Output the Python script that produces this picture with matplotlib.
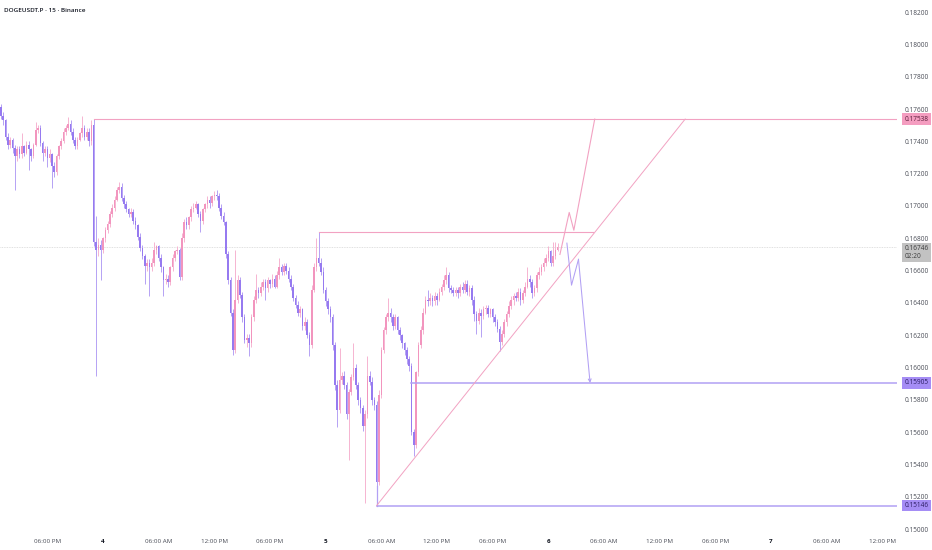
import matplotlib
matplotlib.use('Agg')
import matplotlib.pyplot as plt
import matplotlib.transforms as mtransforms
import numpy as np

# DOGEUSDT.P 15 min candles, first bar at 1:00 PM on the 3rd
# (time is counted in hours from midnight of the 4th)
first_open = 0.1761
closes = [
    0.1756, 0.1753, 0.1743, 0.1738, 0.1741, 0.1736, 0.1731, 0.1735, 0.1732, 0.1737,
    0.1733, 0.1738, 0.1735, 0.1731, 0.1738, 0.1747, 0.1748, 0.1739, 0.1733, 0.1735,
    0.1730, 0.1732, 0.1725, 0.1721, 0.1731, 0.1737, 0.1740, 0.1746, 0.1748, 0.1751,
    0.1746, 0.1741, 0.1737, 0.1741, 0.1745, 0.1748, 0.1743, 0.1746, 0.1740, 0.1750,
    0.1678, 0.1673, 0.1676, 0.1673, 0.1680, 0.1685, 0.1689, 0.1695, 0.1699, 0.1704,
    0.1710, 0.1712, 0.1705, 0.1701, 0.1698, 0.1695, 0.1696, 0.1691, 0.1688, 0.1681,
    0.1674, 0.1669, 0.1663, 0.1665, 0.1662, 0.1665, 0.1673, 0.1675, 0.1668, 0.1662,
    0.1654, 0.1655, 0.1653, 0.1662, 0.1668, 0.1672, 0.1673, 0.1656, 0.1680, 0.1690,
    0.1688, 0.1693, 0.1698, 0.1699, 0.1701, 0.1695, 0.1691, 0.1698, 0.1701, 0.1704,
    0.1702, 0.1706, 0.1707, 0.1706, 0.1699, 0.1694, 0.1690, 0.1670, 0.1654, 0.1634,
    0.1611, 0.1642, 0.1654, 0.1645, 0.1631, 0.1617, 0.1618, 0.1615, 0.1631, 0.1642,
    0.1648, 0.1646, 0.1650, 0.1653, 0.1649, 0.1654, 0.1652, 0.1655, 0.1650, 0.1657,
    0.1662, 0.1659, 0.1663, 0.1660, 0.1655, 0.1650, 0.1643, 0.1639, 0.1634, 0.1636,
    0.1626, 0.1628, 0.1620, 0.1614, 0.1648, 0.1662, 0.1668, 0.1665, 0.1659, 0.1648,
    0.1641, 0.1636, 0.1631, 0.1614, 0.1589, 0.1574, 0.1592, 0.1595, 0.1589, 0.1571,
    0.1585, 0.1594, 0.1600, 0.1589, 0.1580, 0.1575, 0.1564, 0.1571, 0.1595, 0.1591,
    0.1580, 0.1577, 0.1529, 0.1583, 0.1611, 0.1623, 0.1631, 0.1634, 0.1631, 0.1626,
    0.1631, 0.1623, 0.1620, 0.1615, 0.1611, 0.1605, 0.1601, 0.1560, 0.1552, 0.1597,
    0.1614, 0.1623, 0.1634, 0.1642, 0.1641, 0.1643, 0.1641, 0.1644, 0.1642, 0.1647,
    0.1650, 0.1654, 0.1657, 0.1649, 0.1648, 0.1646, 0.1648, 0.1646, 0.1650, 0.1648,
    0.1652, 0.1647, 0.1649, 0.1642, 0.1633, 0.1629, 0.1634, 0.1632, 0.1636, 0.1637,
    0.1633, 0.1636, 0.1631, 0.1628, 0.1624, 0.1616, 0.1621, 0.1628, 0.1633, 0.1638,
    0.1642, 0.1644, 0.1643, 0.1647, 0.1642, 0.1646, 0.1650, 0.1655, 0.1653, 0.1646,
    0.1649, 0.1657, 0.1659, 0.1662, 0.1665, 0.1668, 0.1672, 0.1665, 0.1669, 0.1673,
    0.16746,
]
highs = [
    0.1763, 0.1758, 0.1754, 0.1745, 0.1743, 0.1742, 0.1738, 0.1737, 0.1737, 0.1745,
    0.1738, 0.1740, 0.1740, 0.1736, 0.1739, 0.1752, 0.1750, 0.1750, 0.1740, 0.1737,
    0.1737, 0.1735, 0.1733, 0.1727, 0.1732, 0.1738, 0.1742, 0.1748, 0.1750, 0.1755,
    0.1753, 0.1748, 0.1743, 0.1743, 0.1746, 0.1756, 0.1750, 0.1748, 0.1748, 0.1753,
    0.17538, 0.1694, 0.1680, 0.1679, 0.1681, 0.1687, 0.1691, 0.1697, 0.1701, 0.1706,
    0.1712, 0.1715, 0.1714, 0.1707, 0.1703, 0.1699, 0.1699, 0.1698, 0.1693, 0.1689,
    0.1683, 0.1676, 0.1670, 0.1667, 0.1667, 0.1668, 0.1678, 0.1676, 0.1676, 0.1670,
    0.1663, 0.1658, 0.1657, 0.1663, 0.1670, 0.1673, 0.1675, 0.1674, 0.1683, 0.1692,
    0.1693, 0.1694, 0.1700, 0.1702, 0.1703, 0.1702, 0.1697, 0.1699, 0.1702, 0.1706,
    0.1706, 0.1707, 0.1709, 0.1710, 0.1708, 0.1701, 0.1696, 0.1691, 0.1672, 0.1656,
    0.1636, 0.1673, 0.1657, 0.1656, 0.1647, 0.1633, 0.1621, 0.1621, 0.1633, 0.1644,
    0.1658, 0.1650, 0.1653, 0.1655, 0.1655, 0.1656, 0.1655, 0.1658, 0.1657, 0.1660,
    0.1668, 0.1664, 0.1665, 0.1665, 0.1662, 0.1657, 0.1652, 0.1645, 0.1641, 0.1638,
    0.1637, 0.1631, 0.1630, 0.1622, 0.1651, 0.1665, 0.1680, 0.16842, 0.1668, 0.1662,
    0.1650, 0.1643, 0.1638, 0.1633, 0.1616, 0.1592, 0.1612, 0.1597, 0.1598, 0.1591,
    0.1587, 0.1596, 0.1615, 0.1602, 0.1591, 0.1582, 0.1577, 0.1574, 0.1607, 0.1598,
    0.1594, 0.1582, 0.1579, 0.1586, 0.1613, 0.1625, 0.1633, 0.1643, 0.1637, 0.1633,
    0.1633, 0.1632, 0.1625, 0.1621, 0.1616, 0.1613, 0.1607, 0.1603, 0.1562, 0.1598,
    0.1616, 0.1626, 0.1637, 0.1644, 0.1648, 0.1646, 0.1645, 0.1647, 0.1646, 0.1649,
    0.1652, 0.1657, 0.1662, 0.1659, 0.1651, 0.1650, 0.1650, 0.1650, 0.1652, 0.1653,
    0.1654, 0.1654, 0.1651, 0.1651, 0.1644, 0.1635, 0.1637, 0.1636, 0.1638, 0.1639,
    0.1639, 0.1637, 0.1637, 0.1633, 0.1630, 0.1626, 0.1623, 0.1630, 0.1635, 0.1641,
    0.1644, 0.1646, 0.1647, 0.1649, 0.1649, 0.1648, 0.1653, 0.1662, 0.1657, 0.1655,
    0.1651, 0.1659, 0.1662, 0.1664, 0.1668, 0.1670, 0.1675, 0.1673, 0.1678, 0.1678,
    0.1677,
]
lows = [
    0.1754, 0.1750, 0.1741, 0.1735, 0.1736, 0.1733, 0.1710, 0.1728, 0.1730, 0.1730,
    0.1731, 0.1732, 0.1722, 0.1728, 0.1730, 0.1737, 0.1745, 0.1737, 0.1728, 0.1731,
    0.1724, 0.1727, 0.1711, 0.1718, 0.1719, 0.1729, 0.1735, 0.1739, 0.1744, 0.1747,
    0.1744, 0.1739, 0.1735, 0.1735, 0.1740, 0.1743, 0.1741, 0.1741, 0.1737, 0.1738,
    0.1675, 0.1595, 0.1669, 0.1654, 0.1671, 0.1678, 0.1683, 0.1687, 0.1693, 0.1697,
    0.1703, 0.1708, 0.1703, 0.1699, 0.1696, 0.1693, 0.1693, 0.1689, 0.1686, 0.1679,
    0.1672, 0.1667, 0.1652, 0.1660, 0.1644, 0.1660, 0.1663, 0.1670, 0.1666, 0.1659,
    0.1644, 0.1652, 0.1650, 0.1651, 0.1660, 0.1666, 0.1670, 0.1654, 0.1654, 0.1678,
    0.1686, 0.1686, 0.1691, 0.1696, 0.1698, 0.1693, 0.1684, 0.1689, 0.1696, 0.1699,
    0.1699, 0.1700, 0.1704, 0.1704, 0.1697, 0.1692, 0.1688, 0.1668, 0.1652, 0.1632,
    0.1608, 0.1609, 0.1640, 0.1643, 0.1628, 0.1615, 0.1613, 0.1607, 0.1613, 0.1629,
    0.1640, 0.1643, 0.1644, 0.1648, 0.1642, 0.1647, 0.1649, 0.1650, 0.1649, 0.1649,
    0.1655, 0.1657, 0.1657, 0.1658, 0.1653, 0.1648, 0.1641, 0.1637, 0.1632, 0.1631,
    0.1623, 0.1623, 0.1618, 0.1607, 0.1612, 0.1647, 0.1660, 0.1663, 0.1657, 0.1646,
    0.1638, 0.1633, 0.1628, 0.1611, 0.1586, 0.1563, 0.1572, 0.1590, 0.1587, 0.1568,
    0.1543, 0.1583, 0.1592, 0.1587, 0.1577, 0.1572, 0.1561, 0.1516, 0.1569, 0.1589,
    0.1577, 0.1574, 0.15146, 0.1527, 0.1581, 0.1609, 0.1621, 0.1629, 0.1628, 0.1623,
    0.1624, 0.1621, 0.1617, 0.1612, 0.1608, 0.1602, 0.1598, 0.1558, 0.1545, 0.1550,
    0.1595, 0.1612, 0.1621, 0.1633, 0.1638, 0.1639, 0.1638, 0.1639, 0.1639, 0.1641,
    0.1645, 0.1648, 0.1652, 0.1647, 0.1646, 0.1644, 0.1644, 0.1643, 0.1644, 0.1646,
    0.1646, 0.1645, 0.1644, 0.1639, 0.1629, 0.1621, 0.1627, 0.1619, 0.1630, 0.1633,
    0.1631, 0.1631, 0.1628, 0.1626, 0.1622, 0.1610, 0.1614, 0.1619, 0.1626, 0.1631,
    0.1636, 0.1639, 0.1641, 0.1641, 0.1639, 0.1640, 0.1644, 0.1649, 0.1650, 0.1643,
    0.1644, 0.1647, 0.1655, 0.1657, 0.1660, 0.1663, 0.1666, 0.1663, 0.1663, 0.1667,
    0.1672,
]

# drawings on top of the candles
top_level = 0.17538       # pink ray, from bar 40
mid_level = 0.16842       # pink segment, from bar 137
support_level = 0.15905   # purple ray, from bar 177
bottom_level = 0.15146    # purple ray, from bar 162
last_price = 0.16746
countdown = '02:20'
trend_t = [29.5, 62.75]
trend_p = [0.15146, 0.17538]
bull_t = [49.25, 50.25, 50.75, 53.0]
bull_p = [0.1670, 0.1696, 0.1685, 0.17538]
bear_t = [50.0, 50.5, 51.25, 52.5]
bear_p = [0.1677, 0.1651, 0.1667, 0.15905]

time_ticks = [-6, 0, 6, 12, 18, 24, 30, 36, 42, 48, 54, 60, 66, 72, 78, 84]
time_labels = ['06:00 PM', '4', '06:00 AM', '12:00 PM', '06:00 PM', '5', '06:00 AM', '12:00 PM',
               '06:00 PM', '6', '06:00 AM', '12:00 PM', '06:00 PM', '7', '06:00 AM', '12:00 PM']
day_labels = ['4', '5', '6', '7']

UP = '#f295be'
DOWN = '#967af0'
UP_WICK = '#f6b4d1'
DOWN_WICK = '#b5a2f4'
PINK_LINE = '#f2a2c2'
PURPLE_LINE = '#b2a0f4'
TEXT = '#4a4d57'

plt.rcParams['font.family'] = ['Open Sans', 'DejaVu Sans']

fig = plt.figure(figsize=(9.32, 5.5), dpi=100)
ax = fig.add_axes([0, 18 / 550, 897 / 932, 532 / 550])

c = np.array(closes)
o = np.array([first_open] + closes[:-1])
h = np.maximum(np.array(highs), np.maximum(o, c))
l = np.minimum(np.array(lows), np.minimum(o, c))
t = -11 + 0.25 * np.arange(len(c))   # 15 minute bars in hours
up = c >= o

# wicks then bodies
ax.vlines(t, l, h, colors=np.where(up, UP_WICK, DOWN_WICK), linewidth=0.7, zorder=2)
body = np.maximum(np.abs(c - o), 0.00004)
ax.bar(t, body, bottom=np.minimum(o, c), width=0.17, color=np.where(up, UP, DOWN),
       linewidth=0, zorder=3)

# last price line
ax.axhline(last_price, color='#d6d6d6', lw=0.6, ls=(0, (1, 1)), zorder=1)

xmax = 85.58
ax.plot([t[40], xmax], [top_level, top_level], color=PINK_LINE, lw=0.8, zorder=4)
ax.plot([t[137], 52.8], [mid_level, mid_level], color=PINK_LINE, lw=0.8, zorder=4)
ax.plot([t[177], xmax], [support_level, support_level], color=PURPLE_LINE, lw=1.1, zorder=4)
ax.plot([t[162], xmax], [bottom_level, bottom_level], color=PURPLE_LINE, lw=1.1, zorder=4)
ax.plot([t[162], t[162]], [bottom_level, l[162] + 0.0012], color=PURPLE_LINE, lw=0.9, zorder=4)
ax.plot(trend_t, trend_p, color=PINK_LINE, lw=0.7, zorder=4)

# projected paths
ax.plot(bull_t, bull_p, color=PINK_LINE, lw=0.8, zorder=4)
ax.plot(bear_t[:-1], bear_p[:-1], color=PURPLE_LINE, lw=0.75, zorder=4)
ax.annotate('', xy=(bear_t[-1], bear_p[-1]), xytext=(bear_t[-2], bear_p[-2]),
            arrowprops=dict(arrowstyle='->', color=PURPLE_LINE, lw=0.75, mutation_scale=5,
                            shrinkA=0, shrinkB=0), zorder=4)

ax.set_xlim(-11.1, xmax)
ax.set_ylim(0.14982, 0.18275)

# price scale on the right
ax.yaxis.tick_right()
ax.set_yticks(np.arange(0.150, 0.1821, 0.002))
ax.set_yticklabels(['%.5f' % v for v in np.arange(0.150, 0.1821, 0.002)])
ax.tick_params(axis='y', length=0, pad=5.5, labelsize=4.7, labelcolor=TEXT)
ax.set_xticks(time_ticks)
ax.set_xticklabels(time_labels)
ax.tick_params(axis='x', length=0, pad=5, labelsize=4.5, labelcolor=TEXT)
for lab in ax.get_xticklabels():
    if lab.get_text() in day_labels:
        lab.set_fontweight('bold')
        lab.set_color('#131722')

for s in ax.spines.values():
    s.set_visible(False)

# price tags
trans = mtransforms.blended_transform_factory(ax.transAxes, ax.transData)
tag_x = 1 + 7.5 / 897
ax.text(tag_x, top_level, '%.5f' % top_level, transform=trans, fontsize=4.7, color='#5a1d3a',
        va='center', ha='left', clip_on=False,
        bbox=dict(boxstyle='square,pad=0.35', fc='#f49dc0', ec='none'))
ax.text(tag_x, support_level, '%.5f' % support_level, transform=trans, fontsize=4.7,
        color='#2b1d63', va='center', ha='left', clip_on=False,
        bbox=dict(boxstyle='square,pad=0.35', fc='#a58df5', ec='none'))
ax.text(tag_x, bottom_level, '%.5f' % bottom_level, transform=trans, fontsize=4.7,
        color='#2b1d63', va='center', ha='left', clip_on=False,
        bbox=dict(boxstyle='square,pad=0.35', fc='#a58df5', ec='none'))
ax.text(tag_x, last_price - 0.00034, '%.5f\n%s' % (last_price, countdown), transform=trans,
        fontsize=4.7, color='#3c3c3c', va='center', ha='left', linespacing=1.25, clip_on=False,
        bbox=dict(boxstyle='square,pad=0.35', fc='#c2c2c2', ec='none'))

fig.text(4 / 932, 1 - 10 / 550, 'DOGEUSDT.P · 15 · Binance', fontsize=4.6, color='#131722',
         va='center', ha='left', fontweight='semibold')

fig.savefig('out.png', dpi=100)
